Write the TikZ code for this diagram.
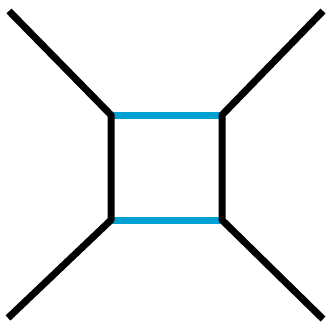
\documentclass[tikz,border=0pt]{standalone}
\usepackage{tikz}
\usepackage{xcolor}
\definecolor{rung}{HTML}{00A0D2}
\tikzset{
  frame/.style={line width=7pt,draw=black,line join=bevel},
  rungline/.style={line width=7pt,draw=rung},
}
\begin{document}
\begin{tikzpicture}[x=1pt,y=-1pt]
  \useasboundingbox (0,0) rectangle (328,325);
  \coordinate (tl) at (111,115);
  \coordinate (tr) at (222,115);
  \coordinate (bl) at (111,220);
  \coordinate (br) at (222,220);
  \coordinate (otl) at (9,11);
  \coordinate (otr) at (323,11);
  \coordinate (obl) at (8,318);
  \coordinate (obr) at (323,319);
  \draw[rungline] (tl) -- (tr);
  \draw[rungline] (bl) -- (br);
  \draw[frame] (otl) -- (tl) -- (bl) -- (obl);
  \draw[frame] (otr) -- (tr) -- (br) -- (obr);
\end{tikzpicture}
\end{document}
